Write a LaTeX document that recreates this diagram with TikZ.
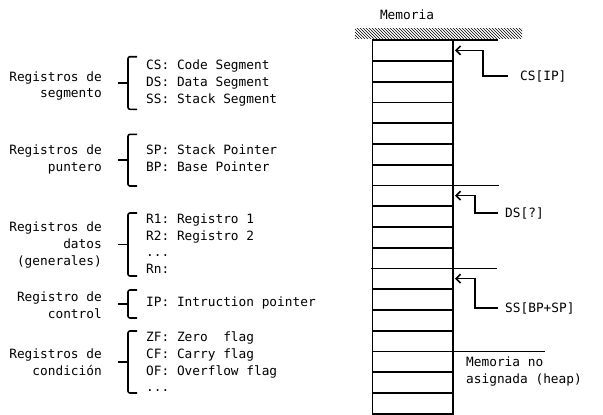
\documentclass[tikz,border=0pt]{standalone}
\usepackage{fontspec}
\setmonofont{DejaVu Sans Mono}
\usetikzlibrary{positioning,arrows.meta,patterns,calc}

% llave de grupo: y arriba, y abajo
\newcommand\llave[2]{%
  \draw[brc] (137,#1) -- (128,#1) -- (128,#2) -- (137,#2);
  \draw[brc] (118,{(#1+#2)/2}) -- (128.6,{(#1+#2)/2});
}

\begin{document}
\begin{tikzpicture}[x=1pt, y=-1pt,
  font=\ttfamily\fontsize{12.8}{16.7}\selectfont,
  grp/.style={anchor=east, align=right, inner sep=0pt},
  itm/.style={anchor=west, align=left, inner sep=0pt},
  ptr/.style={anchor=west, inner sep=0pt},
  cell/.style={minimum width=80pt, minimum height=20.75pt, inner sep=0pt},
  mem/.style={line width=1.9pt},
  brc/.style={line width=1.6pt, rounded corners=2pt},
  ptrline/.style={line width=1.6pt, -{Straight Barb[length=4.5pt,width=9pt]}}]
\useasboundingbox (0,0) rectangle (603,415);

% registros
\node[grp] (lseg) at (102,86) {Registros de\\segmento};
\node[itm] (iseg) at (146,83.2) {CS: Code Segment\\DS: Data Segment\\SS: Stack Segment};
\llave{56.7}{109.3}

\node[grp] (lpun) at (102,159.5) {Registros de\\puntero};
\node[itm] (ipun) at (146,158.5) {SP: Stack Pointer\\BP: Base Pointer};
\llave{134.3}{186}

\node[grp] (ldat) at (102,245) {Registros de\\datos\\(generales)};
\node[itm] (idat) at (146,243.5) {R1: Registro 1\\R2: Registro 2\\...\\Rn:};
\llave{213}{276}

\node[grp] (lctl) at (102,305.5) {Registro de\\control};
\node[itm] (ictl) at (146,302.7) {IP: Intruction pointer};
\llave{290}{318}

\node[grp] (lcnd) at (102,362) {Registros de\\condición};
\node[itm] (icnd) at (146,361.8) {ZF: Zero~~flag\\CF: Carry flag\\OF: Overflow flag\\...};
\llave{331}{393}

% memoria
\node (memt) at (407,15) {Memoria};
\fill[pattern=north west lines] (355,28) rectangle (522,38.5);
\foreach \i in {0,...,17}
  \node[cell] (m\i) at (412.7,{50.375+20.75*\i}) {};
\draw[mem] (m0.north west) rectangle (m17.south east);
\foreach \i in {0,...,16}
  \draw[mem] (m\i.south west) -- (m\i.south east);
\draw[mem] (m0.north west) -- ++(125,0);
\draw[mem] (m6.south east) -- ++(46,0);
\draw[mem] ([xshift=-2pt]m10.south west) -- ++(126,0);
\draw[mem] (m14.south east) -- ++(92,0);

% punteros
\node[ptr] (csip) at (520,76) {CS[IP]};
\draw[ptrline] ([xshift=-12pt]csip.west) -- ++(-25,0) |- ([xshift=2pt]m0.east);
\node[ptr] (dsq) at (505,213) {DS[?]};
\draw[ptrline] ([xshift=-7pt]dsq.west) -- ++(-23,0) |- ([xshift=2pt]m7.east);
\node[ptr] (ssbp) at (505,308) {SS[BP+SP]};
\draw[ptrline] ([xshift=-7pt]ssbp.west) -- ++(-23,0) |- ([xshift=2pt]m11.east);
\node[ptr, align=left] (heap) at (466,371.5) {Memoria no\\asignada (heap)};
\end{tikzpicture}
\end{document}
